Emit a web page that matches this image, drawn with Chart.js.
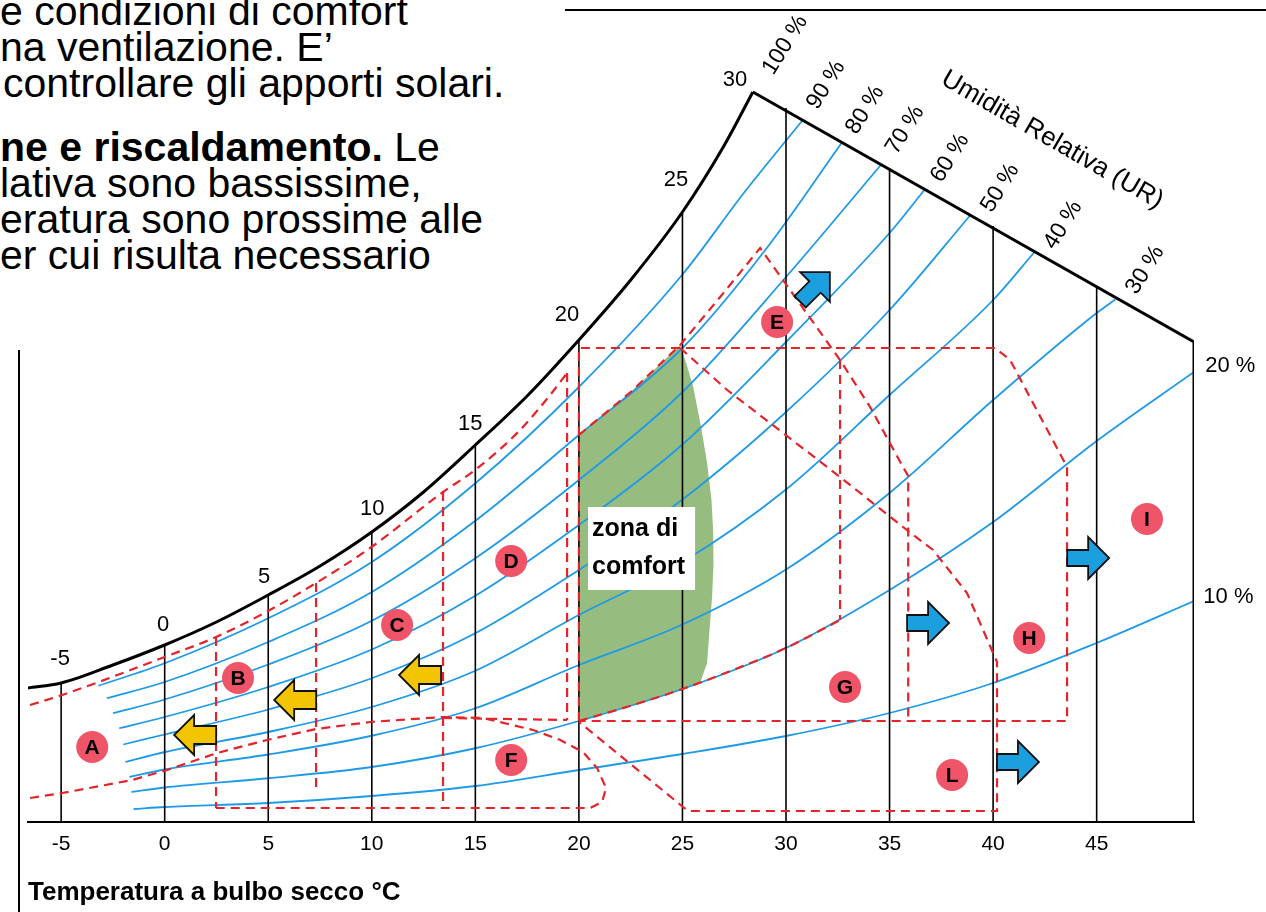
<!DOCTYPE html>
<html><head><meta charset="utf-8">
<script src="https://cdn.jsdelivr.net/npm/chart.js@4/dist/chart.umd.min.js"></script>
<style>
html,body{margin:0;padding:0;background:#fff;width:1266px;height:912px;overflow:hidden;}
canvas{position:absolute;left:0;top:0;}
.t{position:absolute;font-family:'Liberation Sans',Arial,sans-serif;font-size:41px;line-height:36px;color:#000;white-space:nowrap;}
.hl{position:absolute;left:565px;top:9px;width:701px;height:2px;background:#000;}
.vl{position:absolute;left:18px;top:350px;width:2px;height:562px;background:#000;}
</style></head><body>
<div class="t" style="left:0;top:-7px">e condizioni di comfort</div>
<div class="t" style="left:0;top:29px">na ventilazione. E’</div>
<div class="t" style="left:3px;top:65px">controllare gli apporti solari.</div>
<div class="t" style="left:0;top:129px"><b>ne e riscaldamento.</b> Le</div>
<div class="t" style="left:0;top:165px">lativa sono bassissime,</div>
<div class="t" style="left:0;top:201px">eratura sono prossime alle</div>
<div class="t" style="left:0;top:237px">er cui risulta necessario</div>
<div class="hl"></div>
<div class="vl"></div>
<canvas id="c" width="1266" height="912"></canvas>
<script>
// ---- data (x = dry-bulb temperature °C, y = humidity units) ----
const isoTemps = [-5,0,5,10,15,20,25,30,35,40,45];
const isoTop   = [5.56,7.08,9.08,11.6,15.08,19.28,24.4,28.56,26.16,23.84,21.44];

const satCurve = [[-6.6,5.36],[-5,5.56],[-2.5,6.28],[0,7.08],[2.5,8.0],[5,9.08],[7.5,10.24],[10,11.6],[12.5,13.2],[15,15.08],[17.5,17.04],[20,19.28],[22.5,21.68],[25,24.4],[27,27.04],[28.4,29.2]];
const chartFrame = [[28.4,29.2],[49.7,19.2],[49.7,0]];

const rh90 = [[-3.2,5.45],[0,6.35],[5,8.15],[10,10.4],[15,13.55],[20,17.4],[25,21.9],[28,25.2],[30.8,28.07]];
const rh80 = [[-2.8,4.95],[0,5.6],[5,7.2],[10,9.2],[15,12.05],[20,15.48],[25,18.96],[29,22.88],[32.7,27.18]];
const rh70 = [[-2.5,4.35],[0,4.9],[5,6.3],[10,8.05],[15,10.55],[20,13.68],[25,17.2],[30,21.8],[34.6,26.3]];
const rh60 = [[-2.2,3.75],[0,4.2],[5,5.4],[10,6.9],[15,9.05],[20,11.88],[25,15.1],[30,19.2],[35,23.56],[36.7,25.3]];
const rh50 = [[-2.0,3.1],[0,3.5],[5,4.5],[10,5.75],[15,7.55],[20,10.08],[25,12.9],[30,16.4],[35,20.48],[38.9,24.27]];
const rh40 = [[-1.9,2.4],[0,2.8],[5,3.6],[10,4.6],[15,6.05],[20,8.28],[25,10.4],[30,13.3],[35,17.08],[40,20.88],[42.0,22.8]];
const rh30 = [[-1.7,1.8],[0,2.1],[5,2.7],[10,3.45],[15,4.55],[20,6.28],[25,7.9],[30,10.1],[35,13.16],[40,16.88],[45,20.36],[45.9,20.9]];
const rh20 = [[-1.6,1.2],[0,1.38],[5,1.75],[10,2.2],[15,2.95],[20,4.04],[25,5.32],[30,6.96],[35,9.28],[40,12.0],[45,15.24],[49.7,18.0]];
const rh10 = [[-1.5,0.52],[0,0.6],[5,0.76],[10,1.04],[15,1.44],[20,2.08],[25,2.72],[30,3.44],[35,4.36],[40,5.56],[45,7.16],[49.7,8.84]];

const comfortZone = [[20,4.04],[20,15.48],[22.5,17.2],[24.89,19.08],[25.2,18.3],[25.52,17.4],[25.9,15.8],[26.19,14.36],[26.4,12.9],[26.48,11.68],[26.5,10.3],[26.43,9.0],[26.3,7.6],[26.19,6.36],[25.85,5.56],[25.08,5.32],[22.5,4.65],[20,4.04]];

const zoneNearSat = [[-6.5,4.68],[-4.95,5.08],[0,6.6],[2.48,7.4],[4.9,8.4],[7.31,9.56],[9.92,10.96],[13.44,13.2],[14.99,14.08],[17.16,15.68],[18.61,17.08],[19.43,17.96]];
const zoneVertT      = [2.48,7.31,13.44,19.43];
const zoneVertTop    = [7.4,9.56,13.2,17.96];
const zoneVertBottom = [0.56,1.16,0.56,4.08];
const zoneDBottom = [[13.44,4.16],[19.43,4.08]];
const zoneFTop = [[-6.5,0.96],[-4.95,1.16],[-1.57,1.68],[0.12,2.08],[2.53,2.76],[4.94,3.28],[7.31,3.72],[9.92,4.0],[13.44,4.2],[15.38,4.16],[17.79,3.68],[19.1,3.28],[20.2,2.8],[20.88,2.16],[21.31,1.36],[21.12,0.8],[20.54,0.56],[2.48,0.56]];
const zoneBox = [[20,4.04],[20,18.96],[40.1,18.96],[40.82,18.48],[43.57,14.2],[43.57,4.04],[20,4.04]];
const zoneGVert = [[32.61,18.48],[32.61,8.08]];
const zoneComfortBottom = [[20,4.04],[22.5,4.65],[25,5.32],[27.5,6.1],[30,6.96],[32.61,8.08]];
const zoneE = [[20,15.48],[22.5,17.2],[24.89,19.08],[26.82,21.0],[28.75,22.96],[32.61,18.48],[34.06,16.6],[35.65,14.2],[35.9,13.84],[35.9,4.04]];
const zoneL = [[24.89,18.96],[27.16,17.28],[29.23,15.96],[32.61,13.8],[35.65,11.8],[37.1,10.88],[38.74,9.16],[40.0,6.76],[40.19,6.4],[40.19,0.44],[25.27,0.44],[20.01,4.0]];

const zoneLetters = ['A','B','C','D','E','F','G','H','I','L'];
const zoneLetterT = [-3.5,3.54,11.22,16.73,29.57,16.73,32.85,41.74,47.43,38.02];
const zoneLetterY = [3.0,5.76,7.88,10.44,20.0,2.48,5.4,7.36,12.12,1.88];

const arrowT   = [1.47,6.3,12.33,31.4,36.86,44.59,41.2];
const arrowY   = [3.48,4.88,5.88,21.4,7.96,10.56,2.4];
const arrowDir = [180,180,180,-45,0,0,0];
const arrowKind= ['heat','heat','heat','cool','cool','cool','cool'];

const satLabels = ['-5','0','5','10','15','20','25','30'];
const satLabelT = [-5.05,-0.07,4.8,10.02,14.75,19.43,24.69,27.54];
const satLabelY = [6.52,7.88,9.8,12.52,15.92,20.28,25.68,29.68];

const rhLabels = ['100 %','90 %','80 %','70 %','60 %','50 %','40 %','30 %'];
const rhLabelT = [29.96,31.93,33.82,35.75,37.92,40.34,43.38,47.34];
const rhLabelY = [31.08,29.48,28.48,27.68,26.56,25.36,23.88,22.08];
const rhSideLabels = ['20 %','10 %'];
const rhSideT = [50.24,50.15];
const rhSideY = [18.24,9.0];
const urTitle = 'Umidità Relativa (UR)';
const urT = 42.85, urY = 27.28;
const comfortText = ['zona di','comfort'];
const comfortBoxT = [20.44,25.61];
const comfortBoxY = [12.6,9.28];

// ---- styles ----
const BLUE = '#1f9ae6', RED = '#e3242b', BLACK = '#000';
const FONT = "'Liberation Sans', Arial, sans-serif";
const pts = a => a.map(p => ({x:p[0], y:p[1]}));

const datasets = [];
datasets.push({data: pts(comfortZone), fill:'shape', backgroundColor:'#96bd7f', borderWidth:0, pointRadius:0, tension:0, order:10});
[rh90,rh80,rh70,rh60,rh50,rh40,rh30,rh20,rh10].forEach(l => datasets.push({data: pts(l), borderColor: BLUE, borderWidth:1.8, pointRadius:0, cubicInterpolationMode:'monotone', fill:false, order:6}));
isoTemps.forEach((t,i) => datasets.push({data:[{x:t,y:0},{x:t,y:isoTop[i]}], borderColor:BLACK, borderWidth:1.6, pointRadius:0, fill:false, order:5}));
const dashed = {borderColor:RED, borderWidth:2.2, borderDash:[9,6], pointRadius:0, fill:false, tension:0, order:3};
datasets.push(Object.assign({data: pts(zoneNearSat), cubicInterpolationMode:'monotone'}, dashed));
zoneVertT.forEach((t,i) => datasets.push(Object.assign({data:[{x:t,y:zoneVertTop[i]},{x:t,y:zoneVertBottom[i]}]}, dashed)));
[zoneDBottom, zoneFTop, zoneBox, zoneGVert, zoneE, zoneL].forEach(z => datasets.push(Object.assign({data: pts(z)}, dashed)));
datasets.push(Object.assign({data: pts(zoneComfortBottom), cubicInterpolationMode:'monotone'}, dashed));
datasets.push({data: pts(satCurve), borderColor:BLACK, borderWidth:3, pointRadius:0, cubicInterpolationMode:'monotone', fill:false, order:2});
datasets.push({data: pts(chartFrame), borderColor:BLACK, borderWidth:3, pointRadius:0, tension:0, fill:false, order:2});

function arrowPath(ctx, kind){
  ctx.beginPath();
  if (kind === 'heat') {
    ctx.moveTo(-21,-9); ctx.lineTo(1,-9); ctx.lineTo(1,-20); ctx.lineTo(21,0); ctx.lineTo(1,20); ctx.lineTo(1,9); ctx.lineTo(-21,9);
  } else {
    ctx.moveTo(-21,-8); ctx.lineTo(0,-8); ctx.lineTo(0,-21); ctx.lineTo(21,0); ctx.lineTo(0,21); ctx.lineTo(0,8); ctx.lineTo(-21,8);
  }
  ctx.closePath();
}

const decor = {
  id:'decor',
  afterDatasetsDraw(chart){
    const {ctx, scales:{x, y}} = chart;
    const X = t => x.getPixelForValue(t), Y = v => y.getPixelForValue(v);
    ctx.save();
    const bx = X(comfortBoxT[0]), by = Y(comfortBoxY[0]);
    const bw = X(comfortBoxT[1]) - bx, bh = Y(comfortBoxY[1]) - by;
    ctx.fillStyle = '#fff'; ctx.fillRect(bx, by, bw, bh);
    ctx.fillStyle = BLACK; ctx.font = "bold 25px " + FONT; ctx.textBaseline = 'middle'; ctx.textAlign = 'left';
    ctx.fillText(comfortText[0], bx + 4, by + 22);
    ctx.fillText(comfortText[1], bx + 4, by + 60);
    arrowT.forEach((t,i) => {
      ctx.save();
      ctx.translate(X(t), Y(arrowY[i]));
      ctx.rotate(arrowDir[i] * Math.PI / 180);
      arrowPath(ctx, arrowKind[i]);
      ctx.fillStyle = arrowKind[i] === 'heat' ? '#f2c500' : '#1c9fdf';
      ctx.fill();
      ctx.lineWidth = 1.8; ctx.strokeStyle = '#111'; ctx.lineJoin = 'miter';
      ctx.stroke();
      ctx.restore();
    });
    zoneLetters.forEach((L,i) => {
      const cx = X(zoneLetterT[i]), cy = Y(zoneLetterY[i]);
      ctx.beginPath(); ctx.arc(cx, cy, 16, 0, Math.PI*2);
      ctx.fillStyle = '#f05468'; ctx.fill();
      ctx.fillStyle = BLACK; ctx.font = "bold 21px " + FONT; ctx.textAlign = 'center'; ctx.textBaseline = 'middle';
      ctx.fillText(L, cx, cy + 1);
    });
    ctx.font = "22px " + FONT; ctx.fillStyle = BLACK; ctx.textAlign = 'center'; ctx.textBaseline = 'middle';
    satLabels.forEach((s,i) => ctx.fillText(s, X(satLabelT[i]), Y(satLabelY[i])));
    ctx.font = "23px " + FONT;
    rhLabels.forEach((s,i) => {
      ctx.save(); ctx.translate(X(rhLabelT[i]), Y(rhLabelY[i])); ctx.rotate(-58 * Math.PI/180);
      ctx.fillText(s, 0, 0); ctx.restore();
    });
    ctx.textAlign = 'left'; ctx.font = "22px " + FONT;
    rhSideLabels.forEach((s,i) => ctx.fillText(s, X(rhSideT[i]), Y(rhSideY[i])));
    ctx.save(); ctx.translate(X(urT), Y(urY)); ctx.rotate(30 * Math.PI/180);
    ctx.textAlign = 'center'; ctx.font = "26px " + FONT; ctx.fillText(urTitle, 0, 0); ctx.restore();
    ctx.restore();
  }
};

new Chart(document.getElementById('c'), {
  type: 'line',
  data: { datasets },
  plugins: [decor],
  options: {
    responsive: false, animation: false, events: [],
    layout: { padding: { left: 28, right: 72, top: 72, bottom: 0 } },
    plugins: { legend: { display:false }, tooltip: { enabled:false } },
    scales: {
      x: {
        type:'linear', min:-6.6, max:49.7,
        grid: { display:false, drawTicks:false },
        border: { display:true, color:BLACK, width:2 },
        ticks: { stepSize:5, includeBounds:false, color:BLACK, padding:10, maxRotation:0, autoSkip:false,
                 font:{ family:FONT, size:21 },
                 callback: v => (v >= -5 && v <= 45) ? String(v) : '' },
        title: { display:true, text:'Temperatura a bulbo secco °C', align:'start', color:BLACK,
                 font:{ family:FONT, size:26, weight:'bold' }, padding:{ top:0, bottom:4 } },
        afterFit: s => { s.height = 90; }
      },
      y: { type:'linear', min:0, max:30, display:false }
    }
  }
});
</script>
</body></html>
